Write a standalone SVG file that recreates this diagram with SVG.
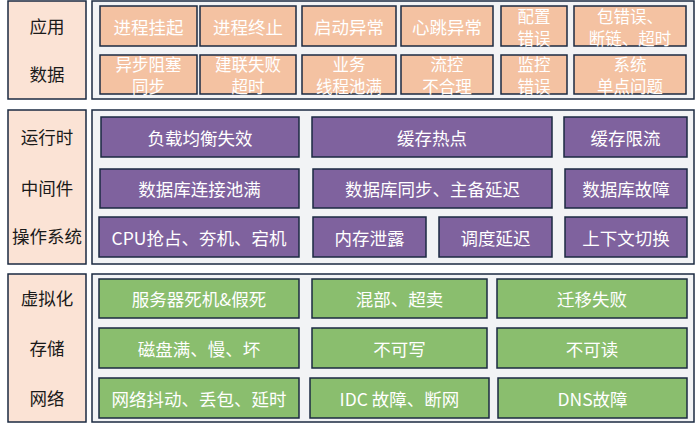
<svg xmlns="http://www.w3.org/2000/svg" width="699" height="424" viewBox="0 0 699 424">
<style>
.lab{fill:#FBE3D5;stroke:#1B2A41;stroke-width:1.5}
.con{fill:#F2F3F5;stroke:#1B2A41;stroke-width:1.5}
.p{fill:#F4C2A2;stroke:#1B2A41;stroke-width:1.5}
.u{fill:#7F629E;stroke:#1B2A41;stroke-width:1.5}
.g{fill:#8ABE6E;stroke:#1B2A41;stroke-width:1.5}
text{font-family:"Noto Sans CJK SC","Noto Sans",sans-serif;font-size:17.5px;text-anchor:middle;dominant-baseline:central}
.w{fill:#FFFFFF}
.k{fill:#1A1A1A}
.t2{font-size:16.5px}
</style>
<rect width="699" height="424" fill="#FFFFFF"/>
<g id="section-app">
<rect class="lab" x="8" y="1" width="78" height="98"/>
<rect class="con" x="92" y="1" width="602" height="98"/>
<text class="k" x="47" y="25">应用</text>
<text class="k" x="47" y="73">数据</text>
</g>
<g id="n-jcgq"><rect class="p" x="100" y="6" width="97" height="40"/><text class="w" x="148.5" y="26">进程挂起</text></g>
<g id="n-jczz"><rect class="p" x="200" y="6" width="96" height="40"/><text class="w" x="248" y="26">进程终止</text></g>
<g id="n-qdyc"><rect class="p" x="302" y="6" width="94" height="40"/><text class="w" x="349" y="26">启动异常</text></g>
<g id="n-xtyc"><rect class="p" x="401" y="6" width="92" height="40"/><text class="w" x="447" y="26">心跳异常</text></g>
<g id="n-pzcw"><rect class="p" x="501" y="6" width="66" height="40"/><text class="w t2" x="534" y="16">配置</text><text class="w t2" x="534" y="38">错误</text></g>
<g id="n-bcw"><rect class="p" x="574" y="6" width="112" height="40"/><text class="w t2" x="630" y="16">包错误、</text><text class="w t2" x="630" y="38">断链、超时</text></g>
<g id="n-ybzs"><rect class="p" x="100" y="55" width="97" height="39"/><text class="w t2" x="148.5" y="64">异步阻塞</text><text class="w t2" x="148.5" y="86">同步</text></g>
<g id="n-jlsb"><rect class="p" x="200" y="55" width="96" height="39"/><text class="w t2" x="248" y="64">建联失败</text><text class="w t2" x="248" y="86">超时</text></g>
<g id="n-yw"><rect class="p" x="302" y="55" width="94" height="39"/><text class="w t2" x="349" y="64">业务</text><text class="w t2" x="349" y="86">线程池满</text></g>
<g id="n-lk"><rect class="p" x="401" y="55" width="92" height="39"/><text class="w t2" x="447" y="64">流控</text><text class="w t2" x="447" y="86">不合理</text></g>
<g id="n-jk"><rect class="p" x="501" y="55" width="66" height="39"/><text class="w t2" x="534" y="64">监控</text><text class="w t2" x="534" y="86">错误</text></g>
<g id="n-xt"><rect class="p" x="574" y="55" width="112" height="39"/><text class="w t2" x="630" y="64">系统</text><text class="w t2" x="630" y="86">单点问题</text></g>

<g id="section-mid">
<rect class="lab" x="8" y="110" width="78" height="154"/>
<rect class="con" x="92" y="110" width="602" height="154"/>
<text class="k" x="47" y="136">运行时</text>
<text class="k" x="47" y="187">中间件</text>
<text class="k" x="47" y="235">操作系统</text>
</g>
<g id="n-fzjh"><rect class="u" x="101" y="117" width="198" height="40"/><text class="w" x="200" y="137">负载均衡失效</text></g>
<g id="n-hcrd"><rect class="u" x="312" y="117" width="240" height="40"/><text class="w" x="432" y="137">缓存热点</text></g>
<g id="n-hcxl"><rect class="u" x="564" y="117" width="123" height="40"/><text class="w" x="625.5" y="137">缓存限流</text></g>
<g id="n-sjkljc"><rect class="u" x="100" y="169" width="199" height="39"/><text class="w" x="199.5" y="188.5">数据库连接池满</text></g>
<g id="n-sjktb"><rect class="u" x="313" y="169" width="239" height="39"/><text class="w" x="432.5" y="188.5">数据库同步、主备延迟</text></g>
<g id="n-sjkgz"><rect class="u" x="565" y="169" width="122" height="39"/><text class="w" x="626" y="188.5">数据库故障</text></g>
<g id="n-cpu"><rect class="u" x="99" y="217" width="200" height="40"/><text class="w" x="199" y="237">CPU抢占、夯机、宕机</text></g>
<g id="n-ncxl"><rect class="u" x="313" y="217" width="113" height="40"/><text class="w" x="369.5" y="237">内存泄露</text></g>
<g id="n-ddyc"><rect class="u" x="439" y="217" width="113" height="40"/><text class="w" x="495.5" y="237">调度延迟</text></g>
<g id="n-sxwqh"><rect class="u" x="565" y="217" width="122" height="40"/><text class="w" x="626" y="237">上下文切换</text></g>

<g id="section-infra">
<rect class="lab" x="8" y="274" width="78" height="148"/>
<rect class="con" x="92" y="274" width="602" height="148"/>
<text class="k" x="47" y="297">虚拟化</text>
<text class="k" x="47" y="347">存储</text>
<text class="k" x="47" y="397">网络</text>
</g>
<g id="n-fwq"><rect class="g" x="99" y="279" width="200" height="39"/><text class="w" x="199" y="298.5">服务器死机&amp;假死</text></g>
<g id="n-hb"><rect class="g" x="312" y="279" width="175" height="39"/><text class="w" x="399.5" y="298.5">混部、超卖</text></g>
<g id="n-qysb"><rect class="g" x="497" y="279" width="190" height="39"/><text class="w" x="592" y="298.5">迁移失败</text></g>
<g id="n-cpm"><rect class="g" x="99" y="328" width="200" height="40"/><text class="w" x="199" y="348">磁盘满、慢、坏</text></g>
<g id="n-bkx"><rect class="g" x="312" y="328" width="175" height="40"/><text class="w" x="399.5" y="348">不可写</text></g>
<g id="n-bkd"><rect class="g" x="497" y="328" width="190" height="40"/><text class="w" x="592" y="348">不可读</text></g>
<g id="n-wldd"><rect class="g" x="99" y="378" width="200" height="40"/><text class="w" x="199" y="398">网络抖动、丢包、延时</text></g>
<g id="n-idc"><rect class="g" x="310" y="378" width="179" height="40"/><text class="w" x="399.5" y="398">IDC 故障、断网</text></g>
<g id="n-dns"><rect class="g" x="498" y="378" width="189" height="40"/><text class="w" x="592.5" y="398">DNS故障</text></g>
<g id="connectors"/>
</svg>
